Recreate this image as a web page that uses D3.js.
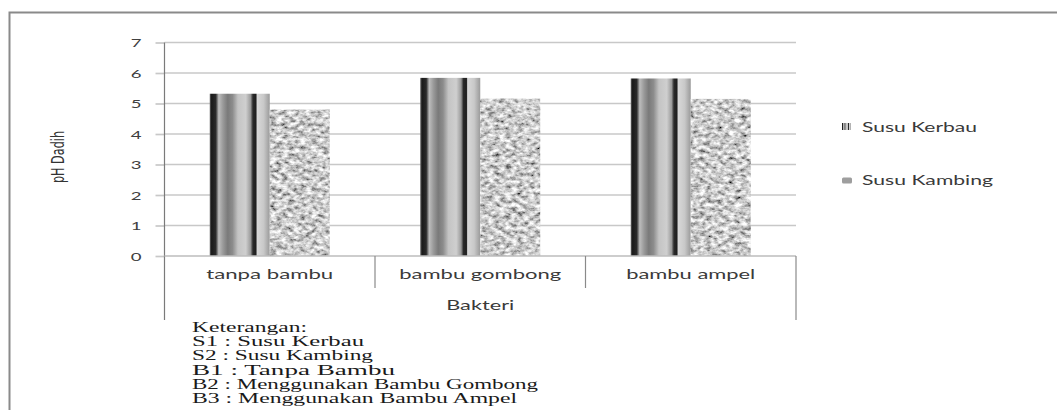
<!DOCTYPE html>
<html>
<head>
<meta charset="utf-8">
<script src="https://cdn.jsdelivr.net/npm/d3@7"></script>
<style>
  html, body { margin: 0; padding: 0; background: #fff; }
  svg { display: block; }
</style>
</head>
<body>
<svg id="chart" width="1057" height="410"></svg>
<script>
// Categories, series and labels
const categories = ["tanpa bambu", "bambu gombong", "bambu ampel"];
const seriesNames = ["Susu Kerbau", "Susu Kambing"];
const kerbau = [5.32, 5.84, 5.82];
const kambing = [4.80, 5.16, 5.15];
const yTicks = [0, 1, 2, 3, 4, 5, 6, 7];
const xTitle = "Bakteri";
const yTitle = "pH Dadih";
const notes = [
  "Keterangan:",
  "S1 : Susu Kerbau",
  "S2 : Susu Kambing",
  "B1 : Tanpa Bambu",
  "B2 : Menggunakan Bambu Gombong",
  "B3 : Menggunakan Bambu Ampel"
];
const noteWidths = [115, 172, 181, 203, 346, 325];
const catWidths = [127, 162, 129];

const svg = d3.select("#chart");
const defs = svg.append("defs");

// Vertical metallic stripes for the buffalo milk bars
const stripe = defs.append("linearGradient").attr("id", "stripes")
  .attr("x1", 0).attr("x2", 1).attr("y1", 0).attr("y2", 0);
[[0, "#666"], [0.03, "#1a1a1a"], [0.1, "#2a2a2a"], [0.15, "#bdbdbd"], [0.22, "#9a9a9a"],
 [0.3, "#7a7a7a"], [0.38, "#8c8c8c"], [0.47, "#c4c4c4"], [0.6, "#cfcfcf"], [0.68, "#9c9c9c"],
 [0.72, "#2a2a2a"], [0.77, "#1e1e1e"], [0.79, "#d8d8d8"], [0.9, "#c8c8c8"], [1, "#9a9a9a"]]
  .forEach(([o, c]) => stripe.append("stop").attr("offset", o).attr("stop-color", c));

// Granite-like noise for the goat milk bars
const granite = defs.append("filter").attr("id", "granite")
  .attr("filterUnits", "objectBoundingBox")
  .attr("x", 0).attr("y", 0).attr("width", 1).attr("height", 1);
granite.append("feTurbulence").attr("type", "fractalNoise")
  .attr("baseFrequency", "0.17 0.26").attr("numOctaves", 3).attr("seed", 7).attr("result", "n");
granite.append("feColorMatrix").attr("in", "n").attr("type", "matrix")
  .attr("values", "1.6 0 0 0 -0.2  1.6 0 0 0 -0.2  1.6 0 0 0 -0.2  0 0 0 0 1")
  .attr("result", "g");
granite.append("feComposite").attr("in", "g").attr("in2", "SourceGraphic").attr("operator", "in");

// Stretch text horizontally to a given width
function fitWidth(sel, w) {
  sel.attr("textLength", w).attr("lengthAdjust", "spacingAndGlyphs");
}
function stretchBy(sel, k) {
  sel.each(function () {
    const w = this.getComputedTextLength();
    d3.select(this).attr("textLength", w * k).attr("lengthAdjust", "spacingAndGlyphs");
  });
}

// Outer frame
svg.append("path")
  .attr("d", "M9.5,410 L9.5,12.5 L1057,12.5")
  .attr("fill", "none").attr("stroke", "#8a8a8a").attr("stroke-width", 2);

// Plot scales
const plotLeft = 164.5, plotRight = 796, plotTop = 42.5, plotBottom = 256;
const y = d3.scaleLinear().domain([0, 7]).range([plotBottom, plotTop]);
const x = d3.scaleBand().domain(categories).range([plotLeft, plotRight]).padding(0);
const barW = 60;
const xs = d3.scaleBand().domain(seriesNames);

// Gridlines
svg.append("g").selectAll("line").data(yTicks.filter(d => d > 0)).join("line")
  .attr("x1", plotLeft).attr("x2", plotRight)
  .attr("y1", d => y(d)).attr("y2", d => y(d))
  .attr("stroke", "#c8c8c8").attr("stroke-width", 1.7);

// Y axis
const yAxis = svg.append("g").attr("transform", `translate(${plotLeft},0)`)
  .call(d3.axisLeft(y).tickValues(yTicks).tickSize(9).tickPadding(14).tickFormat(d3.format("d")));
yAxis.select(".domain").remove();
yAxis.selectAll(".tick line").attr("stroke", "#c8c8c8").attr("stroke-width", 1.7);
yAxis.selectAll(".tick text")
  .attr("font-family", "Lato, 'Open Sans', sans-serif").attr("font-size", 12)
  .attr("fill", "#404040").attr("dy", "0.35em");
stretchBy(yAxis.selectAll(".tick text"), 1.55);

// Bars
const groups = svg.append("g").selectAll("g").data(categories).join("g");
groups.each(function (c, i) {
  const cx = x(c) + x.bandwidth() / 2;
  const inner = xs.copy().range([cx - barW, cx + barW]);
  const g = d3.select(this);
  g.append("rect")
    .attr("x", inner(seriesNames[0])).attr("width", inner.bandwidth())
    .attr("y", y(kerbau[i])).attr("height", y(0) - y(kerbau[i]))
    .attr("fill", "url(#stripes)");
  g.append("rect")
    .attr("x", inner(seriesNames[1])).attr("width", inner.bandwidth())
    .attr("y", y(kambing[i])).attr("height", y(0) - y(kambing[i]))
    .attr("fill", "#aaa").attr("filter", "url(#granite)");
});

// Axis lines and category dividers
svg.append("line").attr("x1", plotLeft).attr("x2", plotLeft)
  .attr("y1", plotTop).attr("y2", 320).attr("stroke", "#7a7a7a").attr("stroke-width", 1.2);
svg.append("line").attr("x1", plotLeft).attr("x2", plotRight)
  .attr("y1", plotBottom).attr("y2", plotBottom).attr("stroke", "#bdbdbd").attr("stroke-width", 1.6);
const bounds = categories.map(c => x(c)).concat([plotRight]);
svg.append("g").selectAll("line").data(bounds.slice(1)).join("line")
  .attr("x1", d => d).attr("x2", d => d)
  .attr("y1", plotBottom).attr("y2", (d, i) => i === bounds.length - 2 ? 320 : 288)
  .attr("stroke", "#8a8a8a").attr("stroke-width", 1.2);

// Category labels
svg.append("g").selectAll("text").data(categories).join("text")
  .attr("x", d => x(d) + x.bandwidth() / 2).attr("y", 279)
  .attr("text-anchor", "middle")
  .attr("font-family", "Lato, 'Open Sans', sans-serif").attr("font-size", 14)
  .attr("fill", "#3a3a3a")
  .text(d => d)
  .each(function (d, i) { fitWidth(d3.select(this), catWidths[i]); });

// X title
svg.append("text")
  .attr("x", (plotLeft + plotRight) / 2).attr("y", 310)
  .attr("text-anchor", "middle")
  .attr("font-family", "Lato, 'Open Sans', sans-serif").attr("font-size", 13.5)
  .attr("fill", "#3a3a3a").text(xTitle)
  .call(fitWidth, 68);

// Y title
svg.append("text")
  .attr("transform", "translate(64,157) rotate(-90)")
  .attr("text-anchor", "middle")
  .attr("font-family", "'Liberation Sans Narrow', 'DejaVu Sans Condensed', sans-serif")
  .attr("font-size", 17).attr("fill", "#333").text(yTitle)
  .call(fitWidth, 52);

// Legend
const legend = svg.append("g");
seriesNames.forEach((s, i) => {
  const ly = 127 + i * 53.5;
  if (i === 0) {
    legend.append("rect").attr("x", 842).attr("y", ly - 4).attr("width", 9).attr("height", 7)
      .attr("fill", "url(#stripes)");
  } else {
    legend.append("rect").attr("x", 842).attr("y", ly - 3).attr("width", 10).attr("height", 6)
      .attr("rx", 1.5).attr("fill", "#9e9e9e");
  }
  legend.append("text").attr("x", 862).attr("y", ly).attr("dy", "0.35em")
    .attr("font-family", "Lato, 'Open Sans', sans-serif").attr("font-size", 13)
    .attr("fill", "#3a3a3a").text(s)
    .call(fitWidth, i === 0 ? 115 : 131);
});

// Notes under the chart
svg.append("g").selectAll("text").data(notes).join("text")
  .attr("x", 192).attr("y", (d, i) => 332 + i * 14.2)
  .attr("font-family", "'Liberation Serif', 'Times New Roman', serif")
  .attr("font-size", 14.5).attr("fill", "#1a1a1a")
  .text(d => d)
  .each(function (d, i) { fitWidth(d3.select(this), noteWidths[i]); });
</script>
</body>
</html>
